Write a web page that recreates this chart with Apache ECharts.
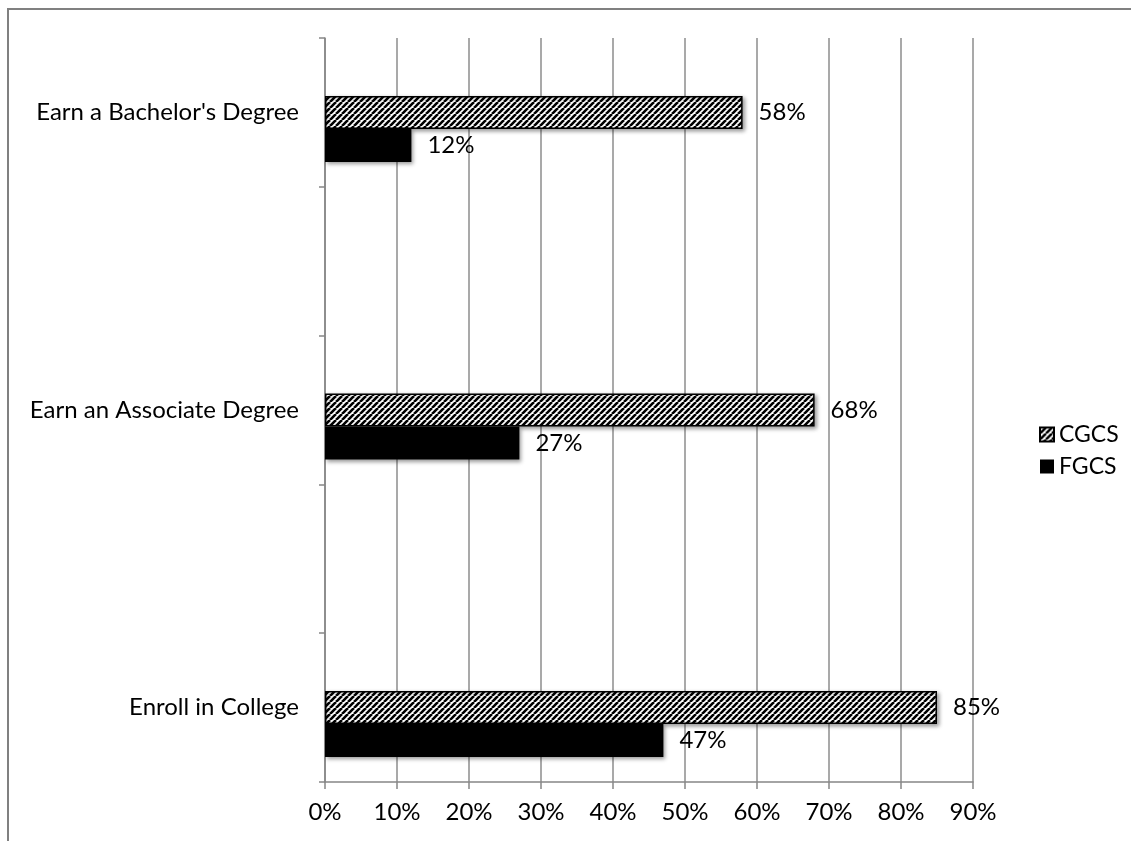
<!DOCTYPE html>
<html>
<head>
<meta charset="utf-8">
<script src="https://cdn.jsdelivr.net/npm/echarts@6/dist/echarts.min.js"></script>
<style>
html,body{margin:0;padding:0;background:#fff;}
#chart{width:1131px;height:841px;}
</style>
</head>
<body>
<div id="chart"></div>
<script>
// Data (bottom to top along the category axis)
const categories = ['Enroll in College', '', 'Earn an Associate Degree', ' ', "Earn a Bachelor's Degree"];
const cgcsValues = [85, '-', 68, '-', 58];
const fgcsValues = [47, '-', 27, '-', 12];
const spacerValues = ['-', '-', '-', '-', '-'];
const xTicks = [0, 10, 20, 30, 40, 50, 60, 70, 80, 90];
const seriesNames = ['CGCS', 'FGCS'];

// hatch pattern
function makeHatch() {
  const s = 6;
  const c = document.createElement('canvas');
  c.width = s; c.height = s;
  const g = c.getContext('2d');
  g.fillStyle = '#fff';
  g.fillRect(0, 0, s, s);
  g.strokeStyle = '#000';
  g.lineWidth = 2.6;
  g.beginPath();
  for (let k = -1; k <= 1; k++) {
    g.moveTo(k * s, s);
    g.lineTo(k * s + s, 0);
  }
  g.stroke();
  return c;
}
const hatch = makeHatch();

const FONT = 'Lato';
const FS = 24;
const chart = echarts.init(document.getElementById('chart'));
const shadow = { shadowColor: 'rgba(0,0,0,0.4)', shadowBlur: 4, shadowOffsetX: 2, shadowOffsetY: 2 };
const labelCfg = {
  show: true, position: 'right', distance: 16,
  formatter: '{c}%', color: '#000', fontFamily: FONT, fontSize: FS
};

chart.setOption({
  animation: false,
  backgroundColor: '#fff',
  textStyle: { fontFamily: FONT },
  graphic: [{
    type: 'polyline',
    shape: { points: [[8, 841], [8, 9], [1131, 9]] },
    style: { stroke: '#808080', lineWidth: 2, fill: null }
  }],
  grid: { left: 325, right: 158, top: 38, bottom: 59, containLabel: false },
  legend: {
    data: seriesNames,
    orient: 'vertical',
    left: 1034,
    top: 418,
    icon: 'rect',
    itemWidth: 14,
    itemHeight: 14,
    itemGap: 9,
    textStyle: { fontFamily: FONT, fontSize: FS - 1, color: '#000' }
  },
  xAxis: {
    type: 'value',
    min: 0, max: 90, interval: 10,
    axisLine: { show: true, lineStyle: { color: '#868686', width: 1.5 } },
    axisTick: { show: true, length: 7, lineStyle: { color: '#868686', width: 1.5 } },
    splitLine: { show: true, lineStyle: { color: '#8c8c8c', width: 1.5 } },
    axisLabel: { formatter: '{value}%', color: '#000', fontFamily: FONT, fontSize: FS, margin: 18 }
  },
  yAxis: {
    type: 'category',
    data: categories,
    axisLine: { show: true, lineStyle: { color: '#868686', width: 1.5 } },
    axisTick: { show: true, length: 6, lineStyle: { color: '#868686', width: 1.5 } },
    splitLine: { show: false },
    axisLabel: { color: '#000', fontFamily: FONT, fontSize: FS, margin: 26 }
  },
  series: [
    { name: 'spacer', type: 'bar', data: spacerValues, barWidth: 33, barGap: '0%' },
    {
      name: seriesNames[0], type: 'bar', data: cgcsValues, barWidth: 33, barGap: '0%',
      itemStyle: Object.assign({ color: { image: hatch, repeat: 'repeat' }, borderColor: '#000', borderWidth: 1.5 }, shadow),
      label: labelCfg
    },
    {
      name: seriesNames[1], type: 'bar', data: fgcsValues, barWidth: 33, barGap: '0%',
      itemStyle: Object.assign({ color: '#000' }, shadow),
      label: labelCfg
    }
  ]
});
</script>
</body>
</html>
